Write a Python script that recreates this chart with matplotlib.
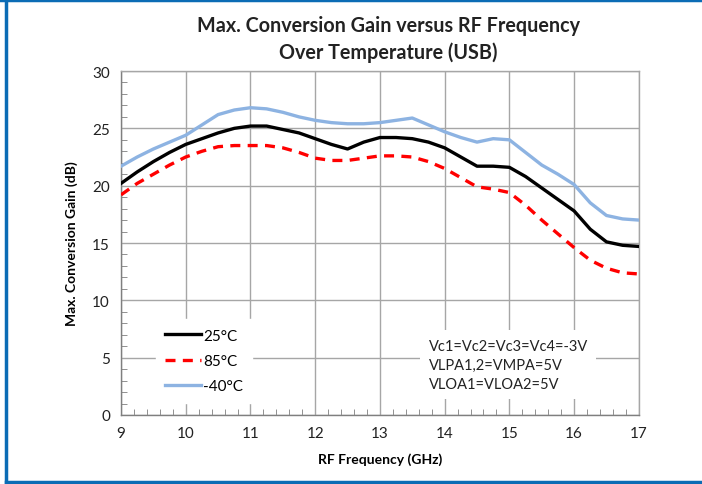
import numpy as np
import matplotlib.pyplot as plt
from matplotlib.lines import Line2D
from matplotlib.ticker import MultipleLocator

plt.rcParams['font.family'] = ['Lato', 'DejaVu Sans']

# RF frequency (GHz) and max conversion gain (dB) per temperature
freq = [9.0, 9.25, 9.5, 9.75, 10.0, 10.25, 10.5, 10.75, 11.0, 11.25, 11.5,
        11.75, 12.0, 12.25, 12.5, 12.75, 13.0, 13.25, 13.5, 13.75, 14.0,
        14.25, 14.5, 14.75, 15.0, 15.25, 15.5, 15.75, 16.0, 16.25, 16.5,
        16.75, 17.0]
gain_25 = [20.2, 21.2, 22.1, 22.9, 23.6, 24.1, 24.6, 25.0, 25.2, 25.2, 24.9,
           24.6, 24.1, 23.6, 23.2, 23.8, 24.2, 24.2, 24.1, 23.8, 23.3,
           22.5, 21.7, 21.7, 21.6, 20.8, 19.8, 18.8, 17.8, 16.2, 15.1,
           14.8, 14.7]
gain_85 = [19.2, 20.2, 21.0, 21.8, 22.5, 23.0, 23.4, 23.5, 23.5, 23.5, 23.3,
           22.9, 22.4, 22.2, 22.2, 22.4, 22.6, 22.6, 22.5, 22.1, 21.5,
           20.7, 19.9, 19.7, 19.4, 18.3, 17.0, 15.8, 14.6, 13.5, 12.8,
           12.4, 12.3]
gain_m40 = [21.7, 22.5, 23.2, 23.8, 24.4, 25.3, 26.2, 26.6, 26.8, 26.7, 26.4,
            26.0, 25.7, 25.5, 25.4, 25.4, 25.5, 25.7, 25.9, 25.3, 24.7,
            24.2, 23.8, 24.1, 24.0, 22.9, 21.8, 21.0, 20.1, 18.5, 17.4,
            17.1, 17.0]

fig = plt.figure(figsize=(7.02, 4.85), dpi=100)
ax = fig.add_axes([0.1724, 0.1423, 0.7376, 0.7092])

line_kw = dict(lw=2.4, zorder=3, solid_joinstyle='round',
               dash_joinstyle='round')
ax.plot(freq, gain_25, color='black', label='25°C', **line_kw)
ax.plot(freq, gain_85, color='#ff0000', ls=(0, (3, 2.2)), label='85°C',
        **line_kw)
ax.plot(freq, gain_m40, color='#8db3e2', label='-40°C', **line_kw)

ax.set_xlim(9, 17)
ax.set_ylim(0, 30)
ax.xaxis.set_major_locator(MultipleLocator(1))
ax.xaxis.set_minor_locator(MultipleLocator(0.2))
ax.yaxis.set_major_locator(MultipleLocator(5))
ax.yaxis.set_minor_locator(MultipleLocator(1))
ax.grid(True, which='major', color='#a6a6a6', lw=1.0, zorder=0)
for s in ax.spines.values():
    s.set_color('#a6a6a6')
    s.set_linewidth(1.0)
ax.spines['left'].set_color('#7f7f7f')
ax.spines['bottom'].set_color('#7f7f7f')
ax.tick_params(which='both', direction='in', color='#7f7f7f',
               labelsize=11, labelcolor='#222222')
ax.tick_params(which='major', length=0, pad=8)
ax.tick_params(which='minor', length=4)

ax.set_xlabel('RF Frequency (GHz)', fontsize=10, fontweight='bold', labelpad=9)
ax.set_ylabel('Max. Conversion Gain (dB)', fontsize=10, fontweight='bold',
              labelpad=10)
fig.suptitle('Max. Conversion Gain versus RF Frequency\nOver Temperature (USB)',
             x=0.553, y=0.968, fontsize=14.2, fontweight='bold',
             color='#222222', linespacing=1.4)

leg = ax.legend(loc='upper left', bbox_to_anchor=(0.068, 0.278),
                frameon=True, fancybox=False, edgecolor='white',
                facecolor='white', framealpha=1, fontsize=11,
                handlelength=2.3, handletextpad=0.15, labelspacing=0.75,
                borderpad=0.6, borderaxespad=0)
leg.set_zorder(4)

ax.text(0.594, 0.222,
        'Vc1=Vc2=Vc3=Vc4=-3V\nVLPA1,2=VMPA=5V\nVLOA1=VLOA2=5V',
        transform=ax.transAxes, fontsize=10.5, color='#222222',
        va='top', ha='left', linespacing=1.45, zorder=4,
        bbox=dict(facecolor='white', edgecolor='none', pad=6))

# blue frame around the figure
frame_kw = dict(color='#0b6cb5', lw=2.5, transform=fig.transFigure)
fig.add_artist(Line2D([0, 1], [0.997, 0.997], **frame_kw))
fig.add_artist(Line2D([0.0085, 1], [0.005, 0.005], **frame_kw))
fig.add_artist(Line2D([0.0085, 0.0085], [0.005, 0.997], **frame_kw))

fig.savefig('out.png', dpi=100)
